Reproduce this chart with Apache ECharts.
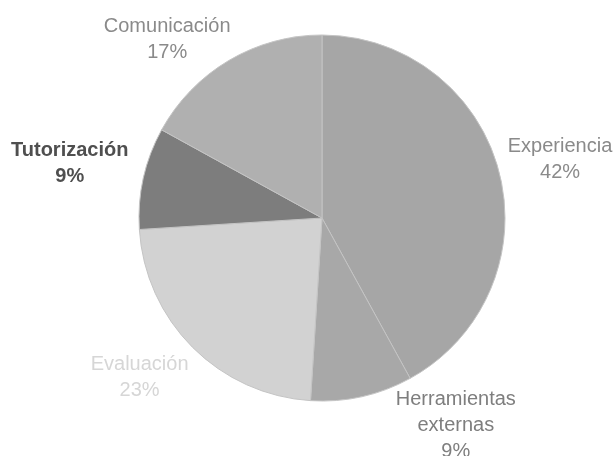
<!DOCTYPE html>
<html>
<head>
<meta charset="utf-8">
<script src="https://cdn.jsdelivr.net/npm/echarts@6/dist/echarts.min.js"></script>
<style>
  html, body { margin: 0; padding: 0; background: #ffffff; }
  #chart { width: 615px; height: 456px; }
</style>
</head>
<body>
<div id="chart"></div>
<script>
// Slices, clockwise from 12 o'clock
const categories = ['Experiencia', 'Herramientas externas', 'Evaluación', 'Tutorización', 'Comunicación'];
const shares = [42, 9, 23, 9, 17];

// Slice and label styling
const sliceColors = ['#a6a6a6', '#a8a8a8', '#d2d2d2', '#7d7d7d', '#b0b0b0'];
const labelColors = ['#8a8a8a', '#7e7e7e', '#d6d6d6', '#4f4f4f', '#8a8a8a'];
const labelWeights = ['normal', 'normal', 'normal', 'bold', 'normal'];
// label placement: distance from centre and angular nudge (degrees) off the slice middle
const labelDist = [245, 247, 242, 258, 236];
const labelNudge = [-0.7, 20.2, -3.9, 0.5, 10.4];

const W = 615, H = 456;
const cx = 322, cy = 218, R = 183;

const total = shares.reduce((a, b) => a + b, 0);
const midAngles = [];
let acc = 0;
shares.forEach(v => {
  midAngles.push(90 - (acc + v / 2) / total * 360);
  acc += v;
});

const chart = echarts.init(document.getElementById('chart'), null, { renderer: 'canvas' });

chart.setOption({
  animation: false,
  backgroundColor: '#ffffff',
  series: [{
    type: 'pie',
    center: [cx, cy],
    radius: [0, R],
    startAngle: 90,
    clockwise: true,
    avoidLabelOverlap: false,
    percentPrecision: 0,
    itemStyle: { borderColor: '#c4c4c4', borderWidth: 1 },
    label: {
      show: true,
      position: 'outside',
      fontFamily: 'Liberation Sans',
      fontSize: 20,
      lineHeight: 26,
      align: 'center',
      formatter: p => p.name.replace(' ', '\n') + '\n' + p.percent + '%'
    },
    labelLine: { show: false },
    labelLayout: p => {
      const i = p.dataIndex;
      const a = (midAngles[i] + labelNudge[i]) * Math.PI / 180;
      return {
        x: cx + labelDist[i] * Math.cos(a),
        y: cy - labelDist[i] * Math.sin(a),
        align: 'center',
        verticalAlign: 'middle'
      };
    },
    emphasis: { disabled: true },
    data: categories.map((name, i) => ({
      name,
      value: shares[i],
      itemStyle: { color: sliceColors[i] },
      label: { color: labelColors[i], fontWeight: labelWeights[i] }
    }))
  }]
});
</script>
</body>
</html>
